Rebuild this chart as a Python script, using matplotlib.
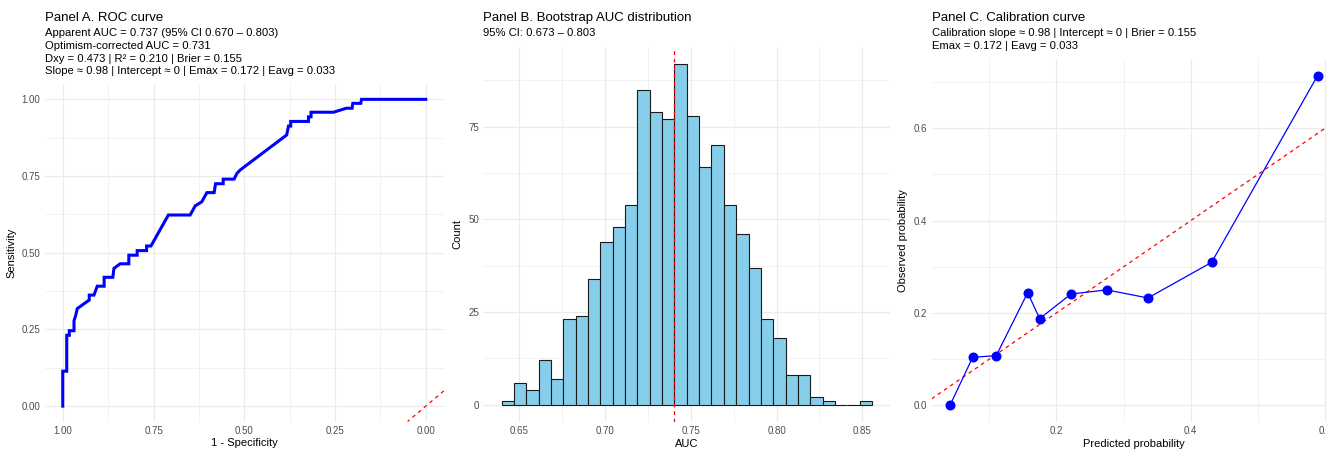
import numpy as np
import matplotlib
matplotlib.use('Agg')
import matplotlib.pyplot as plt

plt.rcParams['font.family'] = ['Liberation Sans', 'DejaVu Sans']

# Panel A: ROC curve (specificity on a reversed axis)
roc_spec = [1.0, 1.0, 0.989, 0.989, 0.982, 0.982, 0.969, 0.969, 0.964, 0.960,
            0.927, 0.927, 0.914, 0.905, 0.886, 0.886, 0.862, 0.859, 0.842, 0.818,
            0.818, 0.795, 0.795, 0.769, 0.769, 0.757, 0.709, 0.649, 0.635, 0.617,
            0.603, 0.583, 0.579, 0.558, 0.558, 0.528, 0.520, 0.511, 0.383, 0.380,
            0.378, 0.372, 0.372, 0.323, 0.323, 0.316, 0.316, 0.254, 0.219, 0.203,
            0.201, 0.179, 0.177, 0.0]
roc_sens = [0.0, 0.114, 0.114, 0.231, 0.231, 0.246, 0.246, 0.278, 0.297, 0.318,
            0.346, 0.362, 0.362, 0.391, 0.391, 0.420, 0.420, 0.449, 0.464, 0.464,
            0.492, 0.492, 0.507, 0.507, 0.522, 0.522, 0.623, 0.623, 0.653, 0.666,
            0.696, 0.696, 0.725, 0.725, 0.740, 0.740, 0.759, 0.770, 0.884, 0.902,
            0.913, 0.913, 0.928, 0.928, 0.943, 0.943, 0.958, 0.958, 0.971, 0.971,
            0.987, 0.987, 1.0, 1.0]

# Panel B: bootstrap AUC histogram
bin_start = 0.6399
bin_width = 0.00719
boot_counts = [1, 6, 4, 12, 7, 23, 24, 34, 44, 48, 54, 85, 79, 77, 92,
               78, 64, 70, 54, 46, 37, 23, 18, 8, 8, 2, 1, 0, 0, 1]
auc_line = 0.7403

# Panel C: calibration
cal_pred = [0.0415, 0.0753, 0.1104, 0.1572, 0.1750, 0.2217, 0.2748, 0.3363, 0.4311, 0.5889]
cal_obs = [0.0, 0.104, 0.1076, 0.244, 0.1877, 0.241, 0.250, 0.2325, 0.3097, 0.714]

W, H = 1326, 449
fig = plt.figure(figsize=(W / 100, H / 100), dpi=100)

grid_col = '#EBEBEB'
tick_col = '#4D4D4D'


def style(ax):
    ax.set_facecolor('white')
    for s in ax.spines.values():
        s.set_visible(False)
    ax.grid(True, which='major', color=grid_col, lw=0.9)
    ax.grid(True, which='minor', color=grid_col, lw=0.45)
    ax.set_axisbelow(True)
    ax.tick_params(which='both', length=0, labelsize=7, labelcolor=tick_col, pad=3)


def add_axes(left, top, right, bottom):
    return fig.add_axes([left / W, 1 - bottom / H, (right - left) / W, (bottom - top) / H])


# ---- Panel A
axA = add_axes(44.6, 84, 443.9, 421.5)
style(axA)
axA.plot(roc_spec, roc_sens, color='blue', lw=2.2, solid_joinstyle='miter')
axA.axline((0, 0), slope=-1, color='red', lw=0.9, ls=(0, (3, 3)))
axA.set_xlim(1.05, -0.05)
axA.set_ylim(-0.05, 1.05)
axA.set_xticks([1.0, 0.75, 0.5, 0.25, 0.0])
axA.set_xticklabels(['1.00', '0.75', '0.50', '0.25', '0.00'])
axA.set_xticks([0.875, 0.625, 0.375, 0.125], minor=True)
axA.set_yticks([0.0, 0.25, 0.5, 0.75, 1.0])
axA.set_yticklabels(['0.00', '0.25', '0.50', '0.75', '1.00'])
axA.set_yticks([0.125, 0.375, 0.625, 0.875], minor=True)
axA.set_xlabel('1 - Specificity', fontsize=8, labelpad=2)
axA.set_ylabel('Sensitivity', fontsize=8, labelpad=4)

# ---- Panel B
axB = add_axes(483, 46.6, 890.4, 421.8)
style(axB)
edges = bin_start + bin_width * np.arange(len(boot_counts))
axB.bar(edges, boot_counts, width=bin_width, align='edge', color='#87CEEB',
        edgecolor='#1a1a1a', lw=0.8)
axB.axvline(auc_line, color='red', lw=0.9, ls=(0, (3, 3)))
axB.set_xlim(0.6291, 0.8663)
axB.set_ylim(-4.6, 96.6)
axB.set_xticks([0.65, 0.70, 0.75, 0.80, 0.85])
axB.set_xticklabels(['0.65', '0.70', '0.75', '0.80', '0.85'])
axB.set_xticks([0.675, 0.725, 0.775, 0.825], minor=True)
axB.set_yticks([0, 25, 50, 75])
axB.set_yticks([12.5, 37.5, 62.5, 87.5], minor=True)
axB.set_xlabel('AUC', fontsize=8, labelpad=2)
axB.set_ylabel('Count', fontsize=8, labelpad=4)

# ---- Panel C (runs past the right edge like the original)
axC = add_axes(931.6, 59, 1336, 421.8)
style(axC)
axC.axline((0, 0), slope=1, color='red', lw=0.9, ls=(0, (3, 3)))
axC.plot(cal_pred, cal_obs, color='blue', lw=0.9, marker='o', ms=6.2)
axC.set_xlim(0.0141, 0.6163)
axC.set_ylim(-0.0357, 0.75)
axC.set_xticks([0.2, 0.4, 0.6])
axC.set_xticks([0.1, 0.3, 0.5], minor=True)
axC.set_yticks([0.0, 0.2, 0.4, 0.6])
axC.set_yticks([0.1, 0.3, 0.5, 0.7], minor=True)
axC.set_xlabel('Predicted probability', fontsize=8, labelpad=2)
axC.set_ylabel('Observed probability', fontsize=8, labelpad=4)

# ---- titles and subtitles
titles = ['Panel A. ROC curve', 'Panel B. Bootstrap AUC distribution',
          'Panel C. Calibration curve']
subtitles = [
    'Apparent AUC = 0.737 (95% CI 0.670 \u2013 0.803)\n'
    'Optimism-corrected AUC = 0.731\n'
    'Dxy = 0.473 | R\u00b2 = 0.210 | Brier = 0.155\n'
    'Slope \u2248 0.98 | Intercept \u2248 0 | Emax = 0.172 | Eavg = 0.033',
    '95% CI: 0.673 \u2013 0.803',
    'Calibration slope \u2248 0.98 | Intercept \u2248 0 | Brier = 0.155\n'
    'Emax = 0.172 | Eavg = 0.033',
]
for ax, t, s in zip([axA, axB, axC], titles, subtitles):
    x0 = ax.get_position().x0
    fig.text(x0, 1 - 18 / H, t, fontsize=9.5, va='center', ha='left')
    fig.text(x0, 1 - 28.5 / H, s, fontsize=8.1, va='top', ha='left', linespacing=1.32)

fig.savefig('out.png', dpi=100)
